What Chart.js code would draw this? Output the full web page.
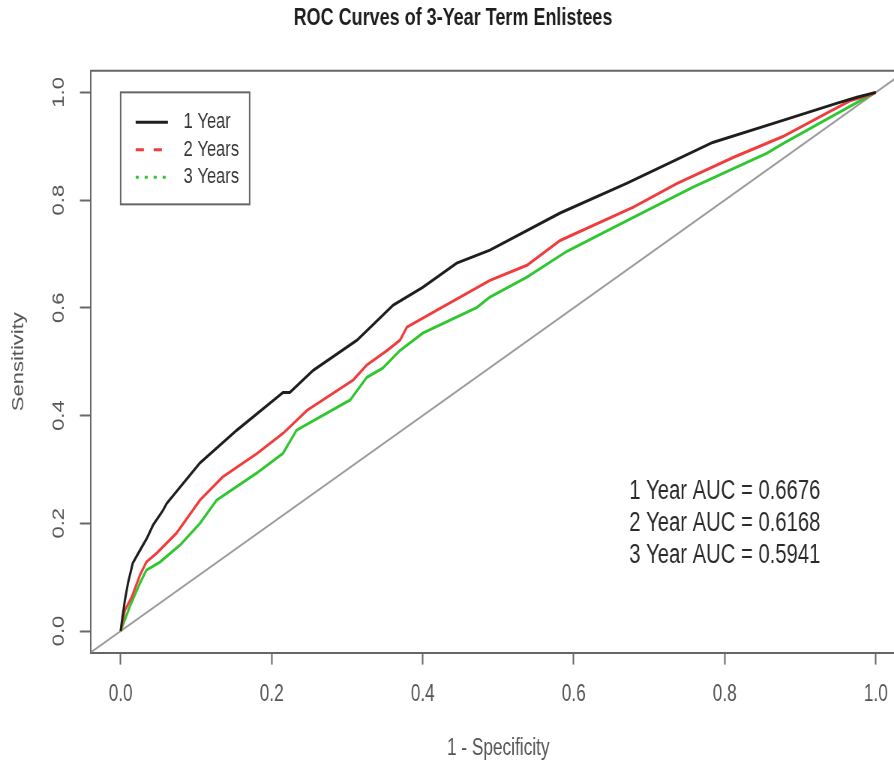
<!DOCTYPE html>
<html>
<head>
<meta charset="utf-8">
<title>ROC Curves of 3-Year Term Enlistees</title>
<script src="https://cdn.jsdelivr.net/npm/chart.js@4.4.1/dist/chart.umd.min.js"></script>
<style>
  html, body { margin: 0; padding: 0; background: #fff; }
  /* the original picture is squeezed sideways, so the canvas is drawn wide and shrunk by css */
  #wrap { width: 894px; height: 763px; overflow: hidden; }
  #roc { display: block; }
</style>
</head>
<body>
<div id="wrap"><canvas id="roc" width="1208" height="763" style="width:906px;height:763px"></canvas></div>
<script>
// ROC curves (1 - specificity, sensitivity)
const fpr1Year = [0, 0.0013, 0.0057, 0.0097, 0.016, 0.0256, 0.035, 0.043, 0.056, 0.061, 0.105, 0.154, 0.215, 0.224, 0.255, 0.313, 0.361, 0.400, 0.445, 0.489, 0.582, 0.670, 0.784, 0.877, 0.949, 0.975, 1.0];
const tpr1Year = [0, 0.015, 0.058, 0.089, 0.126, 0.150, 0.173, 0.197, 0.224, 0.237, 0.312, 0.373, 0.443, 0.443, 0.484, 0.540, 0.605, 0.638, 0.683, 0.707, 0.776, 0.831, 0.907, 0.948, 0.980, 0.991, 1.0];

const fpr2Years = [0, 0.0057, 0.0146, 0.0256, 0.034, 0.048, 0.074, 0.105, 0.135, 0.181, 0.215, 0.247, 0.308, 0.326, 0.353, 0.370, 0.379, 0.423, 0.489, 0.538, 0.582, 0.679, 0.737, 0.811, 0.877, 0.940, 0.967, 0.993, 1.0];
const tpr2Years = [0, 0.039, 0.063, 0.104, 0.128, 0.145, 0.182, 0.243, 0.286, 0.330, 0.367, 0.410, 0.466, 0.494, 0.521, 0.540, 0.564, 0.599, 0.651, 0.679, 0.725, 0.787, 0.831, 0.879, 0.918, 0.965, 0.985, 0.996, 1.0];

const fpr3Years = [0, 0.012, 0.0256, 0.034, 0.052, 0.079, 0.105, 0.127, 0.180, 0.215, 0.233, 0.304, 0.326, 0.347, 0.370, 0.400, 0.472, 0.489, 0.538, 0.591, 0.679, 0.758, 0.856, 0.877, 0.949, 0.988, 1.0];
const tpr3Years = [0, 0.045, 0.089, 0.113, 0.128, 0.160, 0.200, 0.243, 0.293, 0.330, 0.373, 0.429, 0.471, 0.488, 0.521, 0.553, 0.601, 0.620, 0.657, 0.705, 0.768, 0.824, 0.887, 0.905, 0.961, 0.991, 1.0];

// reference line y = x across the whole box
const diagonal = [-0.04, 1.04];

const axisTicks = [0, 0.2, 0.4, 0.6, 0.8, 1.0];
const seriesNames = ['1 Year', '2 Years', '3 Years'];
const aucLabels = ['1 Year AUC = 0.6676', '2 Year AUC = 0.6168', '3 Year AUC = 0.5941'];
const aucAt = [0.8, 0.2];

const FONT = "'Liberation Sans', Arial, Helvetica, sans-serif";
const AXIS_GREY = '#666';
const TEXT_GREY = '#555';
const colori = ['#1e1e1e', '#f03c3c', '#2fc62f'];
const legendDash = [[], [11, 13], [4, 8]];

function punti(xs, ys) {
  return xs.map((x, i) => ({ x: x, y: ys[i] }));
}

// box, legend and AUC text, drawn the way R does it
const rocExtras = {
  id: 'rocExtras',
  afterDraw(chart) {
    const ctx = chart.ctx;
    const area = chart.chartArea;
    const sx = chart.scales.x;
    const sy = chart.scales.y;
    ctx.save();

    ctx.strokeStyle = AXIS_GREY;
    ctx.lineWidth = 2;
    ctx.beginPath();
    ctx.moveTo(area.left, area.top);
    ctx.lineTo(area.right, area.top);
    ctx.lineTo(area.right, area.bottom);
    ctx.stroke();

    // legend top-left, on (0, 1)
    const lx = sx.getPixelForValue(0);
    const ly = sy.getPixelForValue(1);
    ctx.strokeRect(lx, ly, 172, 112);
    ctx.font = '22px ' + FONT;
    ctx.textBaseline = 'middle';
    ctx.textAlign = 'left';
    seriesNames.forEach((nome, i) => {
      const y = ly + 30 + i * 27.5;
      ctx.strokeStyle = colori[i];
      ctx.lineWidth = 3;
      ctx.setLineDash(legendDash[i]);
      ctx.beginPath();
      ctx.moveTo(lx + 20, y);
      ctx.lineTo(lx + 63, y);
      ctx.stroke();
      ctx.setLineDash([]);
      ctx.fillStyle = '#333';
      ctx.fillText(nome, lx + 84, y);
    });

    // AUC values
    const cx = sx.getPixelForValue(aucAt[0]);
    const cy = sy.getPixelForValue(aucAt[1]);
    ctx.font = '27px ' + FONT;
    ctx.textAlign = 'center';
    ctx.fillStyle = '#2a2a2a';
    aucLabels.forEach((testo, i) => {
      ctx.fillText(testo, cx, cy + (i - 1) * 32);
    });
    ctx.restore();
  }
};

const datasets = [
  { label: seriesNames[0], data: punti(fpr1Year, tpr1Year), borderColor: colori[0] },
  { label: seriesNames[1], data: punti(fpr2Years, tpr2Years), borderColor: colori[1] },
  { label: seriesNames[2], data: punti(fpr3Years, tpr3Years), borderColor: colori[2] },
  { label: 'y = x', data: diagonal.map(v => ({ x: v, y: v })), borderColor: '#9a9a9a', borderWidth: 2 }
].map(ds => Object.assign({ showLine: true, pointRadius: 0, borderWidth: 3, tension: 0 }, ds));

function assiComuni(titolo) {
  return {
    type: 'linear',
    min: -0.04,
    max: 1.04,
    afterBuildTicks: s => { s.ticks = axisTicks.map(v => ({ value: v })); },
    ticks: {
      callback: v => v.toFixed(1),
      font: { family: FONT, size: 23 },
      color: TEXT_GREY
    },
    grid: { drawOnChartArea: false, drawTicks: true, tickColor: AXIS_GREY, tickWidth: 2 },
    border: { display: true, color: AXIS_GREY, width: 2 },
    title: { display: true, text: titolo, font: { family: FONT, size: 23 }, color: TEXT_GREY }
  };
}

const scalaX = assiComuni('1 - Specificity');
scalaX.afterFit = s => { s.height = 110.4; };
scalaX.ticks.padding = 16;
scalaX.ticks.maxRotation = 0;
scalaX.grid.tickLength = 12;
scalaX.title.padding = { top: 0, bottom: 1 };

const scalaY = assiComuni('Sensitivity');
scalaY.afterFit = s => { s.width = 120.6; };
scalaY.ticks.padding = 12;
scalaY.ticks.minRotation = 90;
scalaY.ticks.maxRotation = 90;
scalaY.ticks.crossAlign = 'center';
scalaY.ticks.font.size = 22;
scalaY.grid.tickLength = 14;
scalaY.title.font.size = 22;
scalaY.title.padding = { top: 12, bottom: 0 };

new Chart(document.getElementById('roc'), {
  type: 'scatter',
  data: { datasets: datasets },
  options: {
    responsive: false,
    devicePixelRatio: 1,
    animation: false,
    events: [],
    layout: { padding: 0 },
    plugins: {
      legend: { display: false },
      tooltip: { enabled: false },
      title: {
        display: true,
        text: 'ROC Curves of 3-Year Term Enlistees',
        color: '#1e1e1e',
        font: { family: FONT, size: 24, weight: 'bold' },
        padding: { top: 4, bottom: 38 }
      }
    },
    scales: { x: scalaX, y: scalaY }
  },
  plugins: [rocExtras]
});
</script>
</body>
</html>
